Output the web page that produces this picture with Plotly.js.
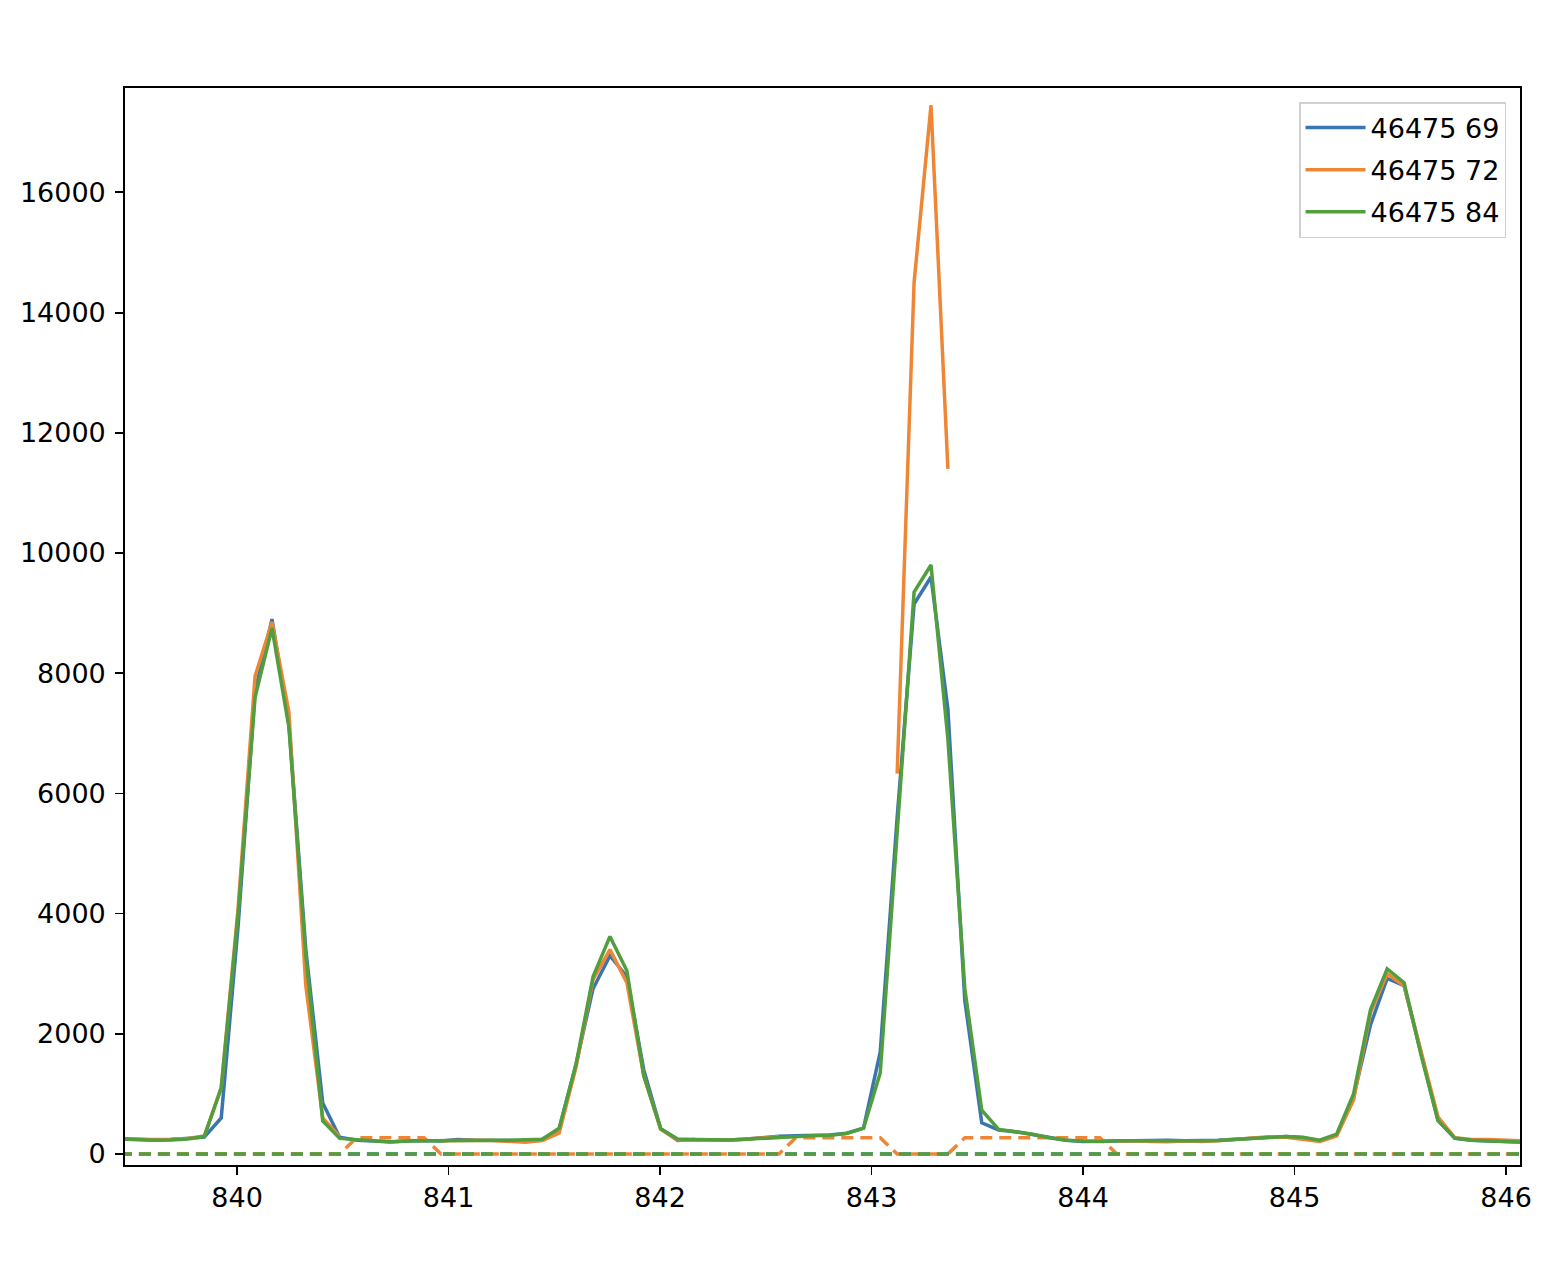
<!DOCTYPE html>
<html>
<head>
<meta charset="utf-8">
<script src="https://cdn.plot.ly/plotly-3.0.1.min.js"></script>
<style>html,body{margin:0;padding:0;background:#fff;}#chart{width:1556px;height:1272px;}</style>
</head>
<body>
<div id="chart"></div>
<script>
// wavelength grid
const wavelength = [
 839.446, 839.526, 839.606, 839.686, 839.766, 839.845, 839.925, 840.005, 840.085,
 840.165, 840.245, 840.325, 840.405, 840.485, 840.565, 840.644, 840.724, 840.804, 840.884,
 840.964, 841.044, 841.124, 841.204, 841.284, 841.364, 841.443, 841.523, 841.603, 841.683,
 841.763, 841.843, 841.923, 842.003, 842.083, 842.163, 842.242, 842.322, 842.402, 842.482,
 842.562, 842.642, 842.722, 842.802, 842.882, 842.962, 843.041, 843.121, 843.201, 843.281,
 843.361, 843.441, 843.521, 843.601, 843.681, 843.761, 843.840, 843.920, 844.000, 844.080,
 844.160, 844.240, 844.320, 844.400, 844.480, 844.560, 844.639, 844.719, 844.799, 844.879,
 844.959, 845.039, 845.119, 845.199, 845.279, 845.359, 845.438, 845.518, 845.598, 845.678,
 845.758, 845.838, 845.918, 845.998, 846.078
];

const flux69 = [
 255, 245, 235, 240, 255, 280, 600, 3800, 7700,
 8900, 7150, 3400, 850, 280, 230, 220, 205, 215, 225,
 215, 240, 230, 230, 225, 215, 240, 420, 1500, 2750,
 3300, 2950, 1400, 420, 225, 240, 235, 235, 245, 275,
 295, 305, 310, 315, 345, 430, 1700, 5600, 9150, 9600,
 7400, 2550, 520, 400, 370, 320, 270, 230, 210, 210,
 220, 220, 225, 230, 220, 220, 230, 245, 260, 280,
 290, 270, 220, 310, 950, 2150, 2920, 2800, 1650, 560,
 260, 230, 215, 210, 200
];

const flux72 = [
 250, 240, 240, 245, 260, 300, 1100, 4100, 7950,
 8850, 7350, 2800, 600, 290, null, null, null, null, null,
 220, 230, 230, 225, 210, 195, 225, 350, 1450, 2900,
 3400, 2850, 1300, 410, 235, 240, 235, 230, 245, 260,
 285, null, null, null, null, null, null, 6330, 14500, 17450,
 11400, null, null, null, null, null, null, null, null, null,
 215, 220, 210, 205, 215, 210, 220, 240, 265, 285,
 280, 250, 210, 300, 900, 2350, 3000, 2800, 1700, 620,
 270, 240, 240, 235, 220
];

const flux84 = [
 250, 240, 230, 235, 250, 290, 1100, 4000, 7600,
 8750, 7100, 3300, 550, 260, 240, 225, 200, 215, 220,
 220, 225, 230, 230, 230, 235, 245, 430, 1500, 2950,
 3620, 3050, 1300, 420, 250, 240, 235, 235, 245, 260,
 285, 300, 305, 310, 340, 430, 1350, 5350, 9350, 9800,
 6900, 2750, 730, 410, 370, 330, 270, 230, 215, 210,
 220, 220, 215, 210, 215, 220, 225, 240, 260, 275,
 290, 280, 230, 330, 1000, 2400, 3080, 2850, 1650, 560,
 265, 230, 220, 210, 200
];

const mask69 = [
 0,0,0,0,0,0,0,0,0, 0,0,0,0,0,0,0,0,0,0, 0,0,0,0,0,0,0,0,0,0,
 0,0,0,0,0,0,0,0,0,0, 0,0,0,0,0,0,0,0,0,0, 0,0,0,0,0,0,0,0,0,0,
 0,0,0,0,0,0,0,0,0,0, 0,0,0,0,0,0,0,0,0,0, 0,0,0,0,0
];
const mask72 = [
 0,0,0,0,0,0,0,0,0, 0,0,0,0,0,270,270,270,270,270, 0,0,0,0,0,0,0,0,0,0,
 0,0,0,0,0,0,0,0,0,0, 0,270,270,270,270,270,270,0,0,0, 0,270,270,270,270,270,270,270,270,270,
 0,0,0,0,0,0,0,0,0,0, 0,0,0,0,0,0,0,0,0,0, 0,0,0,0,0
];
const mask84 = [
 0,0,0,0,0,0,0,0,0, 0,0,0,0,0,0,0,0,0,0, 0,0,0,0,0,0,0,0,0,0,
 0,0,0,0,0,0,0,0,0,0, 0,0,0,0,0,0,0,0,0,0, 0,0,0,0,0,0,0,0,0,0,
 0,0,0,0,0,0,0,0,0,0, 0,0,0,0,0,0,0,0,0,0, 0,0,0,0,0
];

const names = ['46475 69', '46475 72', '46475 84'];
const colors = ['#3b75af', '#ef8636', '#519e3e'];
const fluxes = [flux69, flux72, flux84];
const masks = [mask69, mask72, mask84];

const traces = [];
for (let i = 0; i < 3; i++) {
  traces.push({
    x: wavelength, y: fluxes[i], type: 'scatter', mode: 'lines', name: names[i],
    legendgroup: 'g' + i,
    line: {color: colors[i], width: 3.5}, connectgaps: false, showlegend: true
  });
  traces.push({
    x: wavelength, y: masks[i], type: 'scatter', mode: 'lines', name: names[i] + ' mask',
    legendgroup: 'g' + i,
    line: {color: colors[i], width: 3.5, dash: '12px,7px'}, showlegend: false
  });
}

const font = {family: 'DejaVu Sans, sans-serif', size: 27, color: '#000'};
const layout = {
  width: 1556, height: 1272,
  margin: {l: 125, r: 36, t: 88, b: 107, pad: 0},
  paper_bgcolor: '#fff', plot_bgcolor: '#fff',
  font: font,
  showlegend: true,
  hovermode: false,
  xaxis: {
    range: [839.47, 846.066], tickmode: 'array', tickvals: [840, 841, 842, 843, 844, 845, 846],
    ticktext: ['840', '841', '842', '843', '844', '845', '846'],
    showgrid: false, zeroline: false, showline: true, linecolor: '#000', linewidth: 1.8, mirror: true,
    ticks: 'outside', ticklen: 8, tickwidth: 1.8, tickcolor: '#000', tickfont: font,
    ticklabelstandoff: 0
  },
  yaxis: {
    range: [-183, 17737], tickmode: 'array',
    tickvals: [0, 2000, 4000, 6000, 8000, 10000, 12000, 14000, 16000],
    ticktext: ['0', '2000', '4000', '6000', '8000', '10000', '12000', '14000', '16000'],
    showgrid: false, zeroline: false, showline: true, linecolor: '#000', linewidth: 1.8, mirror: true,
    ticks: 'outside', ticklen: 8, tickwidth: 1.8, tickcolor: '#000', tickfont: font,
    ticklabelstandoff: 4
  },
  legend: {
    x: 0.99, y: 0.987, xanchor: 'right', yanchor: 'top',
    bgcolor: 'rgba(255,255,255,0.8)', bordercolor: '#d0d0d0', borderwidth: 1.5,
    font: font, itemwidth: 60, tracegroupgap: 4
  }
};

Plotly.newPlot('chart', traces, layout, {displayModeBar: false, staticPlot: true});
</script>
</body>
</html>
